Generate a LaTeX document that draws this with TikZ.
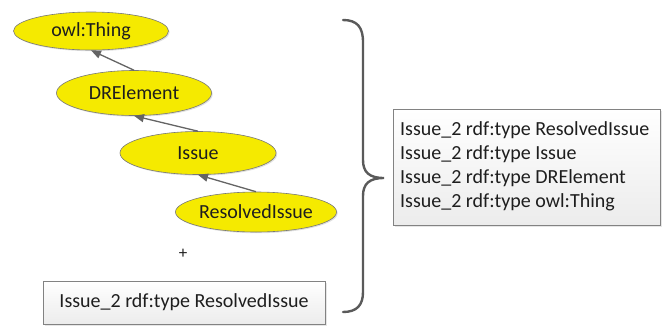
\documentclass[tikz,border=0pt]{standalone}
\usepackage{fontspec}
\setmainfont{Carlito}
\usetikzlibrary{shapes.geometric,arrows.meta,shadows}
\definecolor{ellfill}{RGB}{245,234,0}
\definecolor{ellline}{RGB}{120,120,120}
\definecolor{arrcol}{RGB}{100,100,100}
\definecolor{txtcol}{RGB}{30,30,30}
\definecolor{boxline}{RGB}{130,130,130}
\definecolor{boxbot}{RGB}{236,236,236}
\definecolor{bracecol}{RGB}{90,90,90}
\tikzset{
  cls/.style={ellipse, draw=ellline, line width=0.6pt, fill=ellfill, inner sep=0pt,
    text=txtcol, font=\fontsize{20}{24}\selectfont,
    drop shadow={shadow xshift=1.2pt, shadow yshift=-1.2pt, opacity=0.25}},
  subarrow/.style={draw=arrcol, line width=1.3pt, -{Triangle[length=10pt,width=8pt]}},
  stmtbox/.style={draw=boxline, line width=0.6pt, top color=white, bottom color=boxbot,
    drop shadow={shadow xshift=1.5pt, shadow yshift=-1.5pt, opacity=0.2}},
  stmttext/.style={text=txtcol, font=\fontsize{20}{24}\selectfont},
  stmtline/.style={stmttext, anchor=base west, inner sep=0pt},
}
\begin{document}
\begin{tikzpicture}[x=1pt,y=-1pt]
\useasboundingbox (0,0) rectangle (662,325);
% class ellipses
\node[cls, minimum width=155pt, minimum height=38pt] (thing) at (91,31) {owl:Thing};
\node[cls, minimum width=155pt, minimum height=45pt] (dre) at (134,93) {DRElement};
\node[cls, minimum width=156pt, minimum height=43pt] (iss) at (198,153) {Issue};
\node[cls, minimum width=156pt, minimum height=40pt] (res) at (256,212) {ResolvedIssue};
% subclass arrows
\draw[subarrow] (dre.north) -- (thing.south);
\draw[subarrow] (iss.north) -- (dre.south);
\draw[subarrow] (res.north) -- (iss.south);
% plus
\node[text=txtcol, font=\fontsize{17}{20}\selectfont] (plus) at (183,254) {+};
% input statement
\path[stmtbox] (43,281) rectangle (325,324);
\node[stmttext] (inp) at (184,302.5) {Issue\_2 rdf:type ResolvedIssue};
% brace
\draw[bracecol, line width=2.4pt, line cap=round]
  (343,20) .. controls (357,20) and (363,27) .. (363,42) -- (363,160)
  .. controls (363,172) and (369,178) .. (384,178)
  .. controls (369,178) and (363,184) .. (363,196) -- (363,292)
  .. controls (363,305) and (357,312) .. (343,312);
% inferred statements
\path[stmtbox] (393,109) rectangle (660,225);
\node[stmtline] (out1) at (400,135) {Issue\_2 rdf:type ResolvedIssue};
\node[stmtline] (out2) at (400,159) {Issue\_2 rdf:type Issue};
\node[stmtline] (out3) at (400,183) {Issue\_2 rdf:type DRElement};
\node[stmtline] (out4) at (400,207) {Issue\_2 rdf:type owl:Thing};
\end{tikzpicture}
\end{document}
